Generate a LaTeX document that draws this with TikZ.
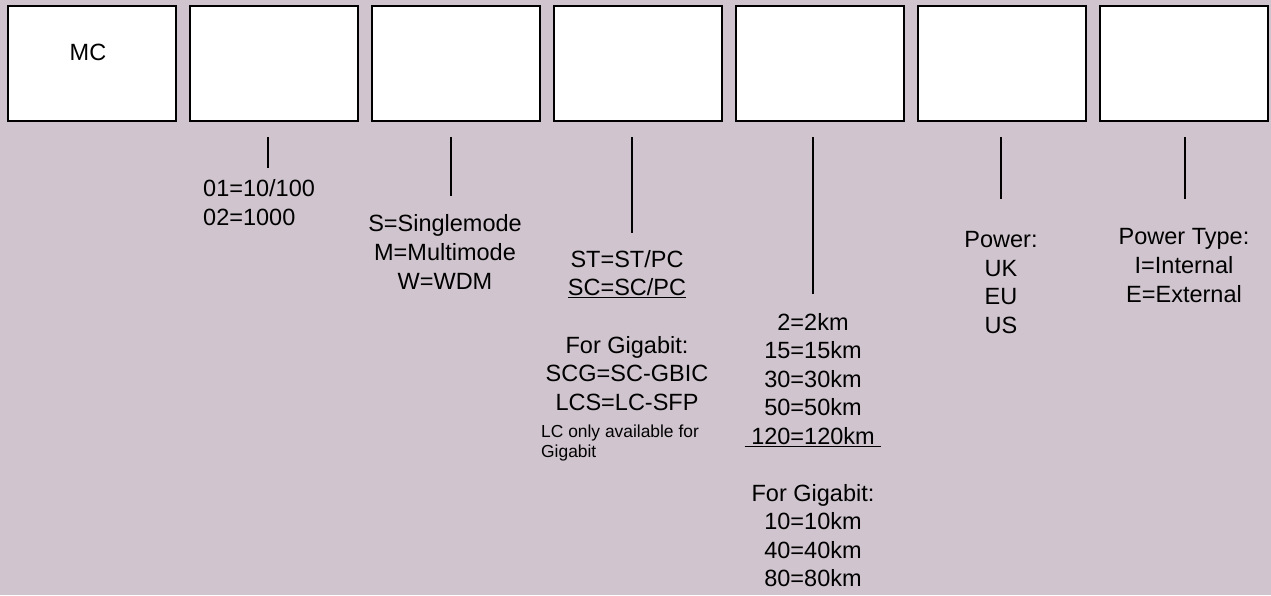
\documentclass[tikz,border=0pt]{standalone}
\usepackage{fontspec}
\setmainfont{Liberation Sans}
\definecolor{bgc}{RGB}{208,197,206}
\begin{document}
\begin{tikzpicture}[x=1pt,y=-1pt,
  box/.style={draw=black,line width=2pt,fill=white,minimum width=168pt,minimum height=115pt,inner sep=0pt,anchor=north west},
  lbl/.style={font=\fontsize{23.5}{28.7}\selectfont,align=center,inner sep=0pt,text=black},
  lblleft/.style={lbl,align=left,anchor=west},
  small/.style={font=\fontsize{17.4}{20}\selectfont,align=left,inner sep=0pt,anchor=west,text=black},
  tick/.style={line width=2pt,draw=black}]
\fill[bgc] (0,0) rectangle (1271,595);
\useasboundingbox (0,0) rectangle (1271,595);
% boxes
\node[box] (b1) at (7,5) {};
\node[box] (b2) at (189,5) {};
\node[box] (b3) at (371,5) {};
\node[box] (b4) at (553,5) {};
\node[box] (b5) at (735,5) {};
\node[box] (b6) at (917,5) {};
\node[box] (b7) at (1099,5) {};
\node[lbl] (mc) at (88,52) {MC};
% ticks
\coordinate (t1a) at (268,137); \coordinate (t1b) at (268,168);
\coordinate (t2a) at (451,137); \coordinate (t2b) at (451,196);
\coordinate (t3a) at (632,137); \coordinate (t3b) at (632,233);
\coordinate (t4a) at (813,137); \coordinate (t4b) at (813,294);
\coordinate (t5a) at (1001,137); \coordinate (t5b) at (1001,199);
\coordinate (t6a) at (1185,137); \coordinate (t6b) at (1185,199);
\draw[tick] (t1a) -- (t1b);
\draw[tick] (t2a) -- (t2b);
\draw[tick] (t3a) -- (t3b);
\draw[tick] (t4a) -- (t4b);
\draw[tick] (t5a) -- (t5b);
\draw[tick] (t6a) -- (t6b);
% labels
\node[lblleft] (l1) at (203,202.5) {01=10/100\\02=1000};
\node[lbl] (l2) at (445,252) {S=Singlemode\\M=Multimode\\W=WDM};
\node[lbl] (l3) at (627,330.5) {ST=ST/PC\\\underline{SC=SC/PC}\\[28.7pt]For Gigabit:\\SCG=SC-GBIC\\ LCS=LC-SFP};
\node[small] (l3s) at (541,443) {LC only available for\\Gigabit};
\node[lbl,font=\fontsize{23.5}{28.5}\selectfont] (l4) at (813,450) {2=2km\\15=15km\\30=30km\\50=50km\\\underline{\ 120=120km\ }\\[28.5pt]For Gigabit:\\10=10km\\40=40km\\80=80km};
\node[lbl] (l5) at (1001,282.5) {Power:\\UK\\EU\\US};
\node[lbl] (l6) at (1184,265.5) {Power Type:\\I=Internal\\E=External};
\end{tikzpicture}
\end{document}
